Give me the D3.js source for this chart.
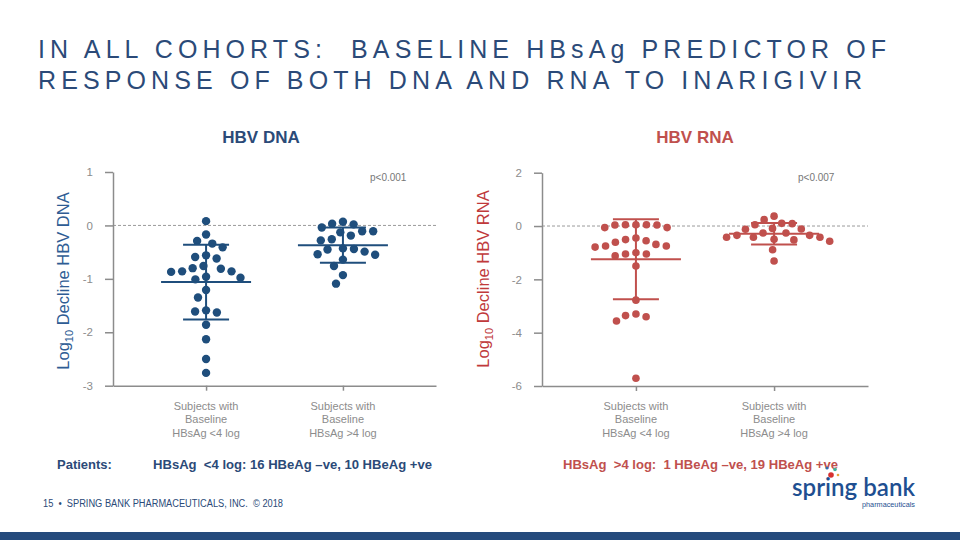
<!DOCTYPE html>
<html>
<head>
<meta charset="utf-8">
<script src="https://cdn.jsdelivr.net/npm/d3@7"></script>
<style>
  html, body { margin: 0; padding: 0; background: #fff; }
  svg { display: block; font-family: "Liberation Sans", Arial, sans-serif; }
  .pre { white-space: pre; }
</style>
</head>
<body>
<script>
// ---------------- DATA ----------------
const titleLines = ["IN ALL COHORTS:  BASELINE HBsAg PREDICTOR OF", "RESPONSE OF BOTH DNA AND RNA TO INARIGIVIR"];
const categories = ["HBsAg <4 log", "HBsAg >4 log"];
const categoryLines = [["Subjects with", "Baseline", "HBsAg <4 log"], ["Subjects with", "Baseline", "HBsAg >4 log"]];

// HBV DNA: log10 decline per subject
const dnaLt4 = [0.08, -0.17, -0.29, -0.34, -0.41, -0.56, -0.59, -0.62, -0.76, -0.81, -0.86, -0.87, -0.86,
                -0.80, -0.96, -1.01, -0.98, -1.21, -1.35, -1.61, -1.63, -1.59, -1.86, -2.13, -2.50, -2.76];
const dnaGt4 = [-0.04, 0.07, 0.02, 0.03, -0.11, -0.19, -0.13, -0.11, -0.28, -0.26, -0.44, -0.49, -0.45,
                -0.43, -0.55, -0.54, -0.64, -0.76, -0.93, -1.09];
const dnaMean = [-1.06, -0.37];
const dnaSD = [0.70, 0.33];
const dnaTicks = [1, 0, -1, -2, -3];
const dnaP = "p<0.001";

// HBV RNA: log10 decline per subject
const rnaLt4 = [0.05, 0.05, -0.06, -0.06, 0.04, 0.04, 0.05, -0.51, -0.61, -0.75, -0.79, -0.75, -0.69,
                -0.55, -0.45, -1.05, -1.12, -1.05, -1.00, -1.50, -2.78, -3.30, -3.40, -3.56, -3.36, -5.71];
const rnaGt4 = [0.24, 0.09, 0.05, 0.10, 0.37, -0.11, -0.09, -0.12, -0.26, -0.35, -0.42, -0.42, -0.52,
                -0.57, -0.50, -0.42, -0.35, -0.26, -0.89, -1.31];
const rnaMean = [-1.25, -0.29];
const rnaSD = [1.50, 0.40];
const rnaTicks = [2, 0, -2, -4, -6];
const rnaP = "p<0.007";

const patientsLeft = "HBsAg  <4 log: 16 HBeAg \u2013ve, 10 HBeAg +ve";
const patientsRight = "HBsAg  >4 log:  1 HBeAg \u2013ve, 19 HBeAg +ve";
const footer = "15  \u2022  SPRING BANK PHARMACEUTICALS, INC.  \u00A9 2018";

// ---------------- DRAW ----------------
const W = 960, H = 540;
const svg = d3.select("body").append("svg").attr("width", W).attr("height", H);

const NAVY = "#2b4a78";
const BLUE = "#1f4e7c";
const RED = "#c0504d";
const GRAY = "#8c8c8c";

// Title
svg.append("g").selectAll("text").data(titleLines).join("text")
  .attr("class", "pre")
  .attr("x", 38)
  .attr("y", (d, i) => 58 + i * 31)
  .attr("font-size", 25)
  .attr("fill", NAVY)
  .attr("textLength", (d, i) => i === 0 ? 848 : 824)
  .attr("lengthAdjust", "spacing")
  .text(d => d);

function swarm(vals, y, dist) {
  const nodes = vals.map(v => ({ v, y: y(v), x: 0 }));
  const order = nodes.slice().sort((a, b) => a.y - b.y);
  const placed = [];
  for (const n of order) {
    const cands = [0];
    for (const p of placed) {
      const dy = n.y - p.y;
      if (Math.abs(dy) < dist) {
        const dx = Math.sqrt(dist * dist - dy * dy);
        cands.push(p.x + dx + 0.01, p.x - dx - 0.01);
      }
    }
    cands.sort((a, b) => Math.abs(a) - Math.abs(b) || a - b);
    for (const c of cands) {
      if (placed.every(p => (p.x - c) ** 2 + (p.y - n.y) ** 2 >= dist * dist - 0.05)) { n.x = c; break; }
    }
    placed.push(n);
  }
  return nodes;
}

function panel(o) {
  const g = svg.append("g");
  const y = d3.scaleLinear().domain([o.ticks[o.ticks.length - 1], o.ticks[0]]).range([o.yBot, o.yTop]);
  const x = d3.scalePoint().domain(categories).range([o.x0, o.x1]).padding(0.68);

  // zero dashed line
  g.append("line")
    .attr("x1", o.x0).attr("x2", o.x1)
    .attr("y1", y(0)).attr("y2", y(0))
    .attr("stroke", "#9a9a9a").attr("stroke-width", 1).attr("stroke-dasharray", "3,2");

  // y axis
  const ya = g.append("g").attr("transform", `translate(${o.x0},0)`)
    .call(d3.axisLeft(y).tickValues(o.ticks).tickSize(8).tickPadding(12).tickSizeOuter(0).tickFormat(d => String(d)));
  ya.select(".domain").attr("stroke", GRAY).attr("stroke-width", 1.5);
  ya.selectAll(".tick line").attr("stroke", GRAY).attr("stroke-width", 1.5);
  ya.selectAll(".tick text").attr("fill", GRAY).attr("font-size", 11.5).attr("font-family", "Liberation Sans, Arial, sans-serif");

  // x axis
  const xa = g.append("g").attr("transform", `translate(0,${o.yBot})`)
    .call(d3.axisBottom(x).tickSize(5).tickSizeOuter(0).tickFormat(""));
  xa.select(".domain").attr("stroke", GRAY).attr("stroke-width", 1.5);
  xa.selectAll(".tick line").attr("stroke", GRAY).attr("stroke-width", 1.5);

  // category labels
  categories.forEach((c, ci) => {
    g.append("g").selectAll("text").data(categoryLines[ci]).join("text")
      .attr("x", x(c)).attr("y", (d, i) => 410 + i * 13.3)
      .attr("text-anchor", "middle").attr("font-size", 11).attr("fill", GRAY)
      .text(d => d);
  });

  // dots
  o.groups.forEach((vals, gi) => {
    const cx = x(categories[gi]);
    const nodes = swarm(vals, y, o.dist);
    g.append("g").selectAll("circle").data(nodes).join("circle")
      .attr("cx", d => cx + d.x).attr("cy", d => d.y).attr("r", o.r)
      .attr("fill", o.color);
    // mean & SD
    const m = o.means[gi], s = o.sds[gi];
    const eg = g.append("g").attr("stroke", o.color).attr("stroke-width", 2);
    eg.append("line").attr("x1", cx).attr("x2", cx).attr("y1", y(m + s)).attr("y2", y(m - s));
    eg.append("line").attr("x1", cx - 45).attr("x2", cx + 45).attr("y1", y(m)).attr("y2", y(m));
    eg.append("line").attr("x1", cx - 23).attr("x2", cx + 23).attr("y1", y(m + s)).attr("y2", y(m + s));
    eg.append("line").attr("x1", cx - 23).attr("x2", cx + 23).attr("y1", y(m - s)).attr("y2", y(m - s));
  });

  // p value
  g.append("text").attr("x", o.pX).attr("y", 181).attr("font-size", 10).attr("fill", "#777").text(o.p);

  // panel title
  g.append("text").attr("x", o.titleX).attr("y", 143).attr("text-anchor", "middle")
    .attr("font-size", 17).attr("font-weight", "bold").attr("fill", o.titleColor).text(o.title);

  // y label
  const yl = g.append("text").attr("transform", `translate(${o.ylX},${o.ylY}) rotate(-90)`)
    .attr("text-anchor", "middle").attr("font-size", 16.5).attr("fill", o.labelColor);
  yl.append("tspan").text("Log");
  yl.append("tspan").attr("font-size", 11).attr("dy", 4).text("10");
  yl.append("tspan").attr("dy", -4).text(" Decline " + o.title);
}

panel({
  x0: 113, x1: 436, yTop: 172, yBot: 385.7, ticks: dnaTicks,
  groups: [dnaLt4, dnaGt4], means: dnaMean, sds: dnaSD,
  color: BLUE, r: 4.2, dist: 11, p: dnaP, pX: 370,
  title: "HBV DNA", titleX: 261, titleColor: NAVY,
  labelColor: "#2e5c94", ylX: 69, ylY: 281
});
panel({
  x0: 542, x1: 868, yTop: 172.7, yBot: 386, ticks: rnaTicks,
  groups: [rnaLt4, rnaGt4], means: rnaMean, sds: rnaSD,
  color: RED, r: 3.8, dist: 10.5, p: rnaP, pX: 798,
  title: "HBV RNA", titleX: 695, titleColor: RED,
  labelColor: "#c0393b", ylX: 489, ylY: 279
});

// Patients lines
svg.append("text").attr("x", 57).attr("y", 468.5).attr("font-size", 13).attr("font-weight", "bold")
  .attr("fill", NAVY).text("Patients:");
svg.append("text").attr("class", "pre").attr("x", 153).attr("y", 468.5).attr("font-size", 13).attr("font-weight", "bold")
  .attr("fill", NAVY).attr("textLength", 279).attr("lengthAdjust", "spacingAndGlyphs").text(patientsLeft);
svg.append("text").attr("class", "pre").attr("x", 563).attr("y", 468.5).attr("font-size", 13).attr("font-weight", "bold")
  .attr("fill", RED).attr("textLength", 275).attr("lengthAdjust", "spacingAndGlyphs").text(patientsRight);

// Footer
svg.append("text").attr("class", "pre").attr("x", 43).attr("y", 506.5).attr("font-size", 10)
  .attr("fill", NAVY).attr("textLength", 240).attr("lengthAdjust", "spacingAndGlyphs").text(footer);
svg.append("rect").attr("x", 0).attr("y", 532).attr("width", W).attr("height", 8).attr("fill", "#254a7c");

// Logo
const logo = svg.append("g");
logo.append("text").attr("x", 792).attr("y", 496).attr("font-size", 24).attr("font-weight", 600)
  .attr("font-family", "Lato, 'Noto Sans', sans-serif")
  .attr("fill", "#1e4f91").attr("textLength", 123).attr("lengthAdjust", "spacingAndGlyphs").text("spring bank");
logo.append("text").attr("x", 862).attr("y", 507).attr("font-size", 7)
  .attr("fill", "#1e4f91").attr("textLength", 53).attr("lengthAdjust", "spacingAndGlyphs").text("pharmaceuticals");
const logoDots = [[831, 475, 2.8, "#d6312f"], [835, 469.5, 1.8, "#3fb39b"], [827, 468, 1.5, "#2b6cb0"], [838, 475, 1.3, "#e8a33c"]];
logo.selectAll("circle").data(logoDots).join("circle")
  .attr("cx", d => d[0]).attr("cy", d => d[1]).attr("r", d => d[2]).attr("fill", d => d[3]);
</script>
</body>
</html>
